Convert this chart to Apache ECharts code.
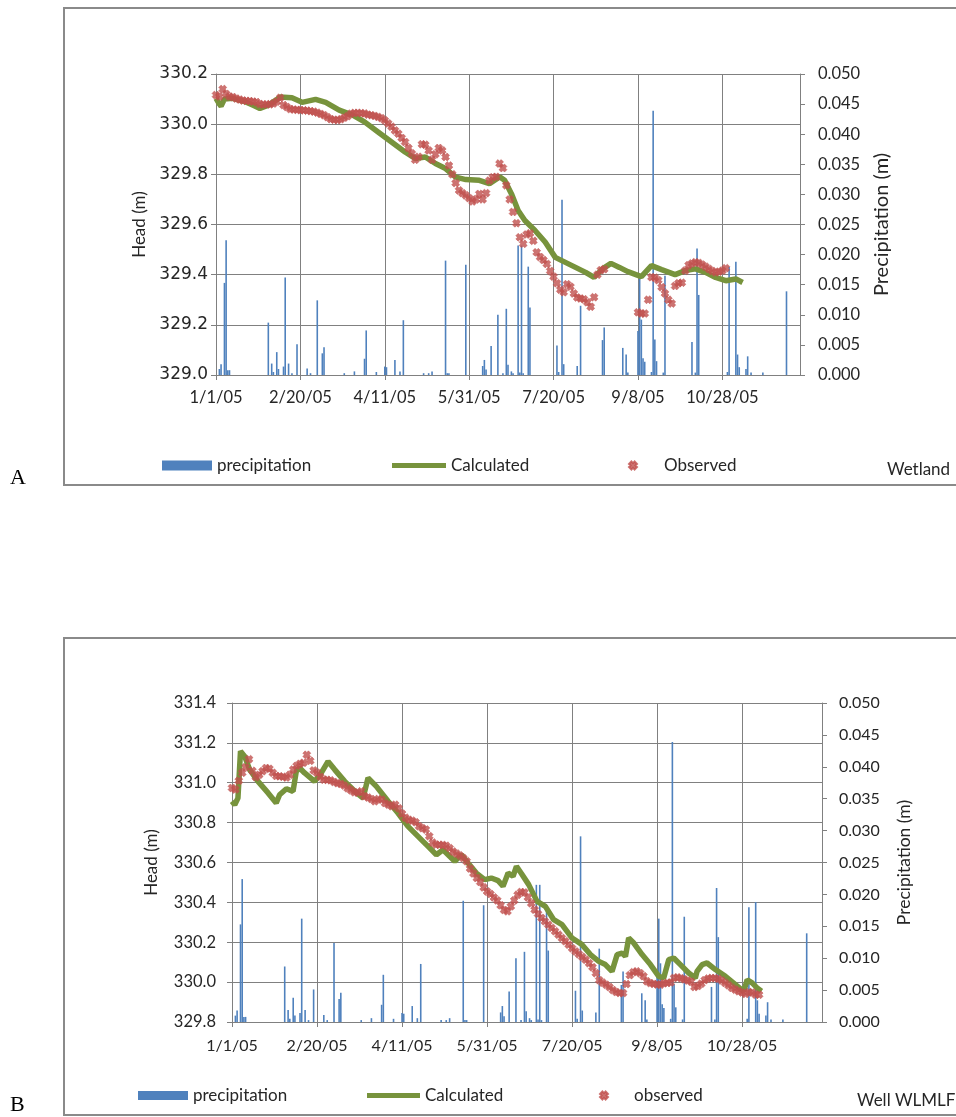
<!DOCTYPE html>
<html>
<head>
<meta charset="utf-8">
<script src="https://cdn.jsdelivr.net/npm/echarts@6/dist/echarts.min.js"></script>
<style>
  html, body { margin: 0; padding: 0; background: #ffffff; }
  #chart { width: 956px; height: 1117px; }
</style>
</head>
<body>
<div id="chart"></div>
<script>
// Date tick labels, one every 50 days starting 1 Jan 2005
const xTickLabels = ['1/1/05', '2/20/05', '4/11/05', '5/31/05', '7/20/05', '9/8/05', '10/28/05'];

// Daily precipitation (day of year from 1/1/05, metres)
const precipitation = [
  [2, 0.001], [3, 0.0018], [5, 0.0153], [6, 0.0224], [7, 0.0008], [8, 0.0008],
  [31, 0.0087], [33, 0.0019], [34, 0.0005], [36, 0.0038], [37, 0.001],
  [40, 0.0014], [41, 0.0162], [43, 0.0019], [45, 0.0003], [48, 0.0051],
  [54, 0.0011], [56, 0.0003], [60, 0.0124], [63, 0.0036], [64, 0.0046],
  [76, 0.0003], [82, 0.0006], [88, 0.0027], [89, 0.0074], [95, 0.0005],
  [100, 0.0014], [101, 0.0013], [106, 0.0025], [109, 0.0006], [111, 0.0091],
  [123, 0.0003], [126, 0.0003], [128, 0.0006], [136, 0.019], [137, 0.0003],
  [138, 0.0003], [148, 0.0183], [158, 0.0015], [159, 0.0025], [160, 0.0009],
  [163, 0.0048], [167, 0.01], [170, 0.0003], [172, 0.011], [173, 0.0017],
  [175, 0.0006], [176, 0.0003], [179, 0.0215], [180, 0.0004], [181, 0.0215],
  [182, 0.0003], [185, 0.018], [186, 0.0112], [202, 0.0049], [203, 0.0005],
  [205, 0.0291], [206, 0.0018], [214, 0.0015], [216, 0.0115], [229, 0.0058],
  [230, 0.0079], [241, 0.0045], [243, 0.0034], [244, 0.0004], [250, 0.0073],
  [251, 0.0162], [252, 0.0092], [253, 0.0028], [254, 0.0022], [258, 0.0005],
  [259, 0.0439], [260, 0.0059], [261, 0.0023], [265, 0.0004], [266, 0.0165],
  [282, 0.0055], [284, 0.0004], [285, 0.021], [286, 0.0133], [303, 0.0005],
  [304, 0.018], [308, 0.0188], [309, 0.0034], [310, 0.0013], [314, 0.001],
  [315, 0.0031], [317, 0.0004], [324, 0.0004], [338, 0.0139]
];

// Wetland: calculated head (m)
const calcDaysA = [0, 2, 3, 5, 10, 17, 22, 26, 31, 36, 38, 45, 51, 59, 65, 73, 81, 88, 96, 104,
  112, 118, 124, 130, 136, 142, 148, 156, 162, 168, 171, 175, 179, 183, 189, 195, 201, 207, 213, 219,
  224, 229, 234, 239, 244, 252, 258, 264, 272, 278, 284, 290, 296, 302, 308, 312];
const calcHeadA = [330.103, 330.08, 330.072, 330.1, 330.103, 330.09, 330.075, 330.063, 330.076, 330.098,
  330.108, 330.105, 330.087, 330.099, 330.087, 330.056, 330.036, 330.009, 329.969, 329.929,
  329.889, 329.863, 329.869, 329.843, 329.823, 329.789, 329.779, 329.776, 329.763, 329.79,
  329.776, 329.723, 329.656, 329.616, 329.576, 329.53, 329.469, 329.449, 329.429, 329.409,
  329.389, 329.423, 329.445, 329.429, 329.412, 329.392, 329.436, 329.42, 329.4, 329.416,
  329.423, 329.409, 329.389, 329.376, 329.383, 329.369];

// Observed heads are logged every OBS_STEP days from 1/1/05 (null = no reading)
const OBS_STEP = 2;

// Wetland: observed head (m)
const obsHeadA = [
  330.116, 330.110, 330.140, 330.120, 330.110, 330.108, 330.102, 330.098, 330.094, 330.093,
  330.092, 330.090, 330.088, 330.080, 330.078, 330.079, 330.079, 330.082, 330.090, 330.105,
  330.076, 330.068, 330.060, 330.058, 330.057, 330.056, 330.055, 330.054, 330.052, 330.050,
  330.046, 330.041, 330.036, 330.028, 330.020, 330.018, 330.016, 330.020, 330.026, 330.032,
  330.042, 330.045, 330.045, 330.044, 330.043, 330.038, 330.036, 330.033, 330.029, 330.024,
  330.015, 330.003, 329.990, 329.975, 329.962, 329.945, 329.929, 329.905, 329.883, 329.858,
  329.870, 329.920, 329.918, 329.895, 329.858, 329.880, 329.905, 329.895, 329.869, 329.835,
  329.800, 329.765, 329.736, 329.725, 329.716, 329.705, 329.692, 329.700, 329.722, 329.700,
  329.725, 329.775, 329.788, 329.790, 329.843, 329.825, 329.756, 329.700, 329.650, 329.605,
  329.549, 329.523, 329.560, 329.565, 329.535, 329.489, 329.470, 329.458, 329.443, 329.415,
  329.392, 329.366, 329.340, 329.330, 329.362, 329.352, 329.325, 329.309, 329.305, 329.302,
  329.290, 329.272, 329.310, 329.400, 329.418, 329.422, null, null, null, null,
  null, null, null, null, null, 329.250, 329.245, 329.245, 329.300, 329.390,
  329.388, 329.378, 329.350, 329.325, 329.300, 329.285, 329.355, 329.366, 329.368, 329.416,
  329.438, 329.445, 329.450, 329.447, 329.440, 329.432, 329.423, 329.415, 329.409, 329.412,
  329.416, 329.426
];

// Well WLMLF: calculated head (m)
const calcDaysB = [0, 1.6, 3.5, 5, 7.5, 10.4, 15.3, 21.2, 26, 28, 32, 35.9, 37.8, 39.8, 42.7, 48.6,
  52.5, 56.5, 60.4, 66.3, 72.2, 77.1, 80, 84.9, 91.8, 97.6, 103.5, 109.4, 115.3, 120.2, 124.1, 128,
  131, 134.9, 138.8, 143.7, 148.6, 152.5, 156.5, 159.4, 162.4, 165.3, 167.3, 170.2, 174.5, 179.4,
  184.3, 189.2, 194.1, 200, 205.9, 210.8, 215.7, 219.6, 223.5, 226.5, 229.4, 231.4, 233.3, 236.3,
  241.2, 246.1, 251, 253.9, 256.9, 259.8, 263.7, 268.6, 272.5, 273.5, 276.5, 279.4, 284.3, 290.2,
  296.1, 301, 303, 305.9, 308.8, 311.4];
const calcHeadB = [330.907, 330.89, 330.923, 331.158, 331.132, 331.066, 331.007, 330.949, 330.898, 330.94,
  330.97, 330.957, 331.057, 331.074, 331.049, 331.007, 331.049, 331.107, 331.066, 331.007,
  330.957, 330.923, 331.024, 330.982, 330.907, 330.848, 330.781, 330.731, 330.681, 330.639,
  330.664, 330.631, 330.606, 330.639, 330.598, 330.547, 330.514, 330.522, 330.509, 330.481,
  330.547, 330.531, 330.581, 330.545, 330.489, 330.405, 330.38, 330.313, 330.288, 330.221,
  330.188, 330.138, 330.104, 330.088, 330.054, 330.138, 330.146, 330.129, 330.221, 330.196,
  330.138, 330.088, 330.029, 330.021, 330.113, 330.121, 330.088, 330.046, 330.021, 330.054,
  330.088, 330.096, 330.063, 330.029, 329.987, 329.954, 330.012, 329.996, 329.971, 329.954];

// Well WLMLF: observed head (m)
const obsHeadB = [
  330.974, 330.966, 331.010, 331.050, 331.078, 331.118, 331.060, 331.028, 331.040, 331.058,
  331.074, 331.070, 331.050, 331.034, 331.032, 331.030, 331.026, 331.040, 331.066, 331.085,
  331.095, 331.100, 331.140, 331.110, 331.062, 331.050, 331.030, 331.015, 331.015, 331.012,
  331.004, 330.998, 330.994, 330.986, 330.972, 330.962, 330.952, 330.950, 330.957, 330.932,
  330.926, 330.918, 330.907, 330.918, 330.915, 330.898, 330.890, 330.882, 330.890, 330.872,
  330.845, 330.825, 330.814, 330.810, 330.802, 330.782, 330.772, 330.765, 330.732, 330.700,
  330.689, 330.689, 330.688, 330.684, 330.672, 330.655, 330.645, 330.635, 330.622, 330.606,
  330.570, 330.545, 330.522, 330.502, 330.475, 330.455, 330.442, 330.425, 330.410, 330.385,
  330.362, 330.355, 330.380, 330.410, 330.438, 330.452, 330.450, 330.425, 330.395, 330.363,
  330.342, 330.322, 330.305, 330.288, 330.272, 330.255, 330.238, 330.221, 330.205, 330.188,
  330.170, 330.154, 330.140, 330.126, 330.112, 330.095, 330.075, 330.045, 330.010, 329.997,
  329.987, 329.975, 329.960, 329.950, 329.945, 329.945, 329.990, 330.035, 330.050, 330.054,
  330.045, 330.030, 330.004, 329.995, 329.991, 329.988, 329.987, 329.994, 329.996, 329.998,
  330.021, 330.024, 330.020, 330.014, 330.008, 330.002, 329.975, 329.980, 329.992, 330.010,
  330.018, 330.021, 330.020, 330.017, 330.008, 329.996, 329.984, 329.971, 329.962, 329.954,
  329.948, 329.941, 329.950, 329.948, 329.937, 329.937
];

const GRID_GREY = '#808080';
const TEXT = '#262626';
const BAR_BLUE = '#4F81BD';
const CALC_GREEN = '#77933C';
const OBS_RED = '#C0504D';
// Heavy "x" marker used for the observed heads
const CROSS = 'path://M0,3 L3,0 L5,2 L7,0 L10,3 L8,5 L10,7 L7,10 L5,8 L3,10 L0,7 L2,5 Z';

const pairs = (days, vals) => days.map((d, i) => [d, vals[i]]);
const stepped = vals => vals.map((v, i) => (v == null ? null : [i * OBS_STEP, v])).filter(p => p);

function dateAxis(gridIndex, maxDay, fontSize, margin) {
  return {
    type: 'value', gridIndex, min: 0, max: maxDay, interval: 50,
    axisLine: { show: true, lineStyle: { color: GRID_GREY, width: 1 } },
    axisTick: { show: true, length: 5, lineStyle: { color: GRID_GREY } },
    splitLine: { show: true, lineStyle: { color: GRID_GREY, width: 1 } },
    axisLabel: {
      color: TEXT, fontFamily: 'Lato', fontSize, margin, showMaxLabel: false,
      formatter: v => (v % 50 === 0 && xTickLabels[v / 50]) ? xTickLabels[v / 50] : ''
    }
  };
}

function headAxis(gridIndex, min, max, o) {
  return {
    type: 'value', gridIndex, position: 'left', min, max, interval: 0.2,
    name: 'Head (m)', nameLocation: 'middle', nameRotate: 90, nameGap: o.nameGap,
    nameTextStyle: { fontFamily: 'Lato', fontSize: o.nameSize, color: TEXT },
    axisLine: { show: true, lineStyle: { color: GRID_GREY } },
    axisTick: { show: true, length: 5, lineStyle: { color: GRID_GREY } },
    splitLine: { show: true, lineStyle: { color: GRID_GREY, width: 1 } },
    axisLabel: { color: TEXT, fontFamily: o.labelFont, fontSize: o.labelSize, margin: o.labelMargin,
      formatter: v => v.toFixed(1) }
  };
}

function precipAxis(gridIndex, o) {
  return {
    type: 'value', gridIndex, position: 'right', min: 0, max: 0.05, interval: 0.005,
    name: 'Precipitation (m)', nameLocation: 'middle', nameRotate: 90, nameGap: o.nameGap,
    nameTextStyle: { fontFamily: 'Lato', fontSize: o.nameSize, color: TEXT },
    axisLine: { show: true, lineStyle: { color: GRID_GREY } },
    axisTick: { show: true, length: 5, lineStyle: { color: GRID_GREY } },
    splitLine: { show: false },
    axisLabel: { color: TEXT, fontFamily: 'Lato', fontSize: o.labelSize, margin: o.labelMargin,
      formatter: v => v.toFixed(3) }
  };
}

function seriesFor(xi, yHead, yPrecip, calcDays, calcHead, obsHead, obsName) {
  return [
    { name: 'precipitation', type: 'bar', xAxisIndex: xi, yAxisIndex: yPrecip, barWidth: 1.6,
      itemStyle: { color: BAR_BLUE }, data: precipitation, z: 2, animation: false },
    { name: 'Calculated', type: 'line', xAxisIndex: xi, yAxisIndex: yHead, symbol: 'none',
      lineStyle: { color: CALC_GREEN, width: 5.5 }, itemStyle: { color: CALC_GREEN },
      data: pairs(calcDays, calcHead), z: 3, animation: false },
    { name: obsName, type: 'scatter', xAxisIndex: xi, yAxisIndex: yHead, symbol: CROSS, symbolSize: 8,
      itemStyle: { color: OBS_RED, borderColor: OBS_RED, borderWidth: 0.6 },
      data: stepped(obsHead), z: 4, animation: false }
  ];
}

const legendText = { fontFamily: 'Lato', fontSize: 17, color: TEXT };
function legendItem(name, left, top, extra) {
  return Object.assign({ data: [name], left, top, padding: 0, selectedMode: false,
    textStyle: Object.assign({}, legendText) }, extra);
}

const chart = echarts.init(document.getElementById('chart'), null, { renderer: 'canvas' });
chart.setOption({
  backgroundColor: '#ffffff',
  animation: false,
  title: [
    { text: 'Wetland', left: 887, top: 461, padding: 0, textStyle: { fontFamily: 'Lato', fontSize: 17, fontWeight: 'normal', color: TEXT } },
    { text: 'Well WLMLF', left: 857, top: 1092, padding: 0, textStyle: { fontFamily: 'Lato', fontSize: 17, fontWeight: 'normal', color: TEXT } },
    { text: 'A', left: 10, top: 467, padding: 0, textStyle: { fontFamily: 'Liberation Serif', fontSize: 22, fontWeight: 'normal', color: '#000' } },
    { text: 'B', left: 10, top: 1094, padding: 0, textStyle: { fontFamily: 'Liberation Serif', fontSize: 22, fontWeight: 'normal', color: '#000' } }
  ],
  graphic: [
    { type: 'rect', shape: { x: 64, y: 8, width: 900, height: 477 }, silent: true,
      style: { fill: null, stroke: '#8a8a8a', lineWidth: 2 } },
    { type: 'rect', shape: { x: 64, y: 638, width: 900, height: 477 }, silent: true,
      style: { fill: null, stroke: '#8a8a8a', lineWidth: 2 } }
  ],
  legend: [
    legendItem('precipitation', 162, 457, { icon: 'rect', itemWidth: 50, itemHeight: 10 }),
    legendItem('Calculated', 392, 457, { icon: 'rect', itemWidth: 54, itemHeight: 5 }),
    legendItem('Observed', 628, 457, { itemWidth: 8, itemHeight: 8,
      textStyle: Object.assign({}, legendText, { padding: [0, 0, 0, 22] }) }),
    legendItem('precipitation', 138, 1087, { icon: 'rect', itemWidth: 50, itemHeight: 9 }),
    legendItem('Calculated', 367, 1087, { icon: 'rect', itemWidth: 53, itemHeight: 5 }),
    legendItem('observed', 599, 1087, { itemWidth: 8, itemHeight: 8,
      textStyle: Object.assign({}, legendText, { padding: [0, 0, 0, 21] }) })
  ],
  grid: [
    { left: 216, top: 74, width: 584, height: 301, containLabel: false },
    { left: 232, top: 703, width: 590, height: 319, containLabel: false }
  ],
  xAxis: [
    dateAxis(0, 346, 16.5, 14),
    dateAxis(1, 347, 16, 16)
  ],
  yAxis: [
    headAxis(0, 329.0, 330.2, { nameGap: 68, nameSize: 17, labelFont: 'DejaVu Sans', labelSize: 17, labelMargin: 8 }),
    precipAxis(0, { nameGap: 72, nameSize: 20, labelSize: 16.5, labelMargin: 18 }),
    headAxis(1, 329.8, 331.4, { nameGap: 72, nameSize: 17, labelFont: 'Lato', labelSize: 16.5, labelMargin: 16 }),
    precipAxis(1, { nameGap: 73, nameSize: 17.5, labelSize: 16, labelMargin: 17 })
  ],
  series: [
    ...seriesFor(0, 0, 1, calcDaysA, calcHeadA, obsHeadA, 'Observed'),
    ...seriesFor(1, 2, 3, calcDaysB, calcHeadB, obsHeadB, 'observed')
  ]
});
</script>
</body>
</html>
